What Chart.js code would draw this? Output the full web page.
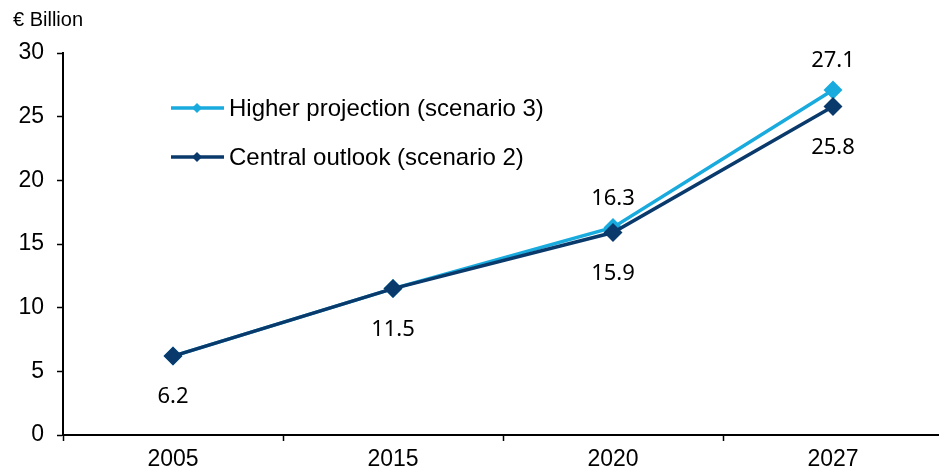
<!DOCTYPE html>
<html>
<head>
<meta charset="utf-8">
<script src="https://cdn.jsdelivr.net/npm/chart.js@4"></script>
<style>
  html, body { margin: 0; padding: 0; background: #fff; overflow: hidden; }
  #wrap { width: 939px; height: 475px; overflow: hidden; }
</style>
</head>
<body>
<div id="wrap"><canvas id="c" width="943" height="475"></canvas></div>
<script>
const years = ["2005", "2015", "2020", "2027"]
const higher = [6.2, 11.5, 16.3, 27.1]
const central = [6.2, 11.5, 15.9, 25.8]
const yTicks = [0, 5, 10, 15, 20, 25, 30]
// which points get a number, and where (above / below)
const higherLabels = [null, null, "above", "above"]
const centralLabels = ["below", "below", "below", "below"]

const lightBlue = "#19ABDE"
const navy = "#0A3A6C"

// unit label, legend, point values
const extras = {
  id: "extras",
  afterDatasetsDraw(chart) {
    const ctx = chart.ctx
    ctx.save()
    ctx.fillStyle = "#000"
    ctx.font = "20px 'Liberation Sans', Arial, sans-serif"
    ctx.textAlign = "left"
    ctx.textBaseline = "middle"
    ctx.fillText("€ Billion", 13, 20)

    // legend
    const items = [["Higher projection (scenario 3)", lightBlue, 108], ["Central outlook (scenario 2)", navy, 157]]
    items.forEach(([txt, col, y]) => {
      ctx.strokeStyle = col
      ctx.lineWidth = 3.5
      ctx.beginPath()
      ctx.moveTo(171, y)
      ctx.lineTo(224, y)
      ctx.stroke()
      ctx.fillStyle = col
      ctx.beginPath()
      ctx.moveTo(197, y - 5)
      ctx.lineTo(202, y)
      ctx.lineTo(197, y + 5)
      ctx.lineTo(192, y)
      ctx.closePath()
      ctx.fill()
      ctx.fillStyle = "#000"
      ctx.font = "24px 'Liberation Sans', Arial, sans-serif"
      ctx.fillText(txt, 229, y + 1)
    })

    // values
    ctx.font = "22px 'Noto Sans', 'DejaVu Sans', sans-serif"
    ctx.textAlign = "center"
    const sets = [[1, higher, higherLabels], [0, central, centralLabels]]
    sets.forEach(([i, vals, where]) => {
      const meta = chart.getDatasetMeta(i)
      meta.data.forEach((pt, k) => {
        if (!where[k]) return
        const dy = where[k] === "above" ? -29 : 41
        ctx.fillText(vals[k].toFixed(1), pt.x, pt.y + dy)
      })
    })
    ctx.restore()
  }
}

new Chart(document.getElementById("c"), {
  type: "line",
  data: {
    labels: years,
    datasets: [
      {
        label: "Central outlook (scenario 2)",
        data: central,
        borderColor: navy,
        backgroundColor: navy,
        borderWidth: 3.5,
        pointStyle: "rectRot",
        pointRadius: 7,
        pointHoverRadius: 7,
        tension: 0
      },
      {
        label: "Higher projection (scenario 3)",
        data: higher,
        borderColor: lightBlue,
        backgroundColor: lightBlue,
        borderWidth: 3.5,
        pointStyle: "rectRot",
        pointRadius: 7,
        pointHoverRadius: 7,
        tension: 0
      }
    ]
  },
  options: {
    responsive: false,
    animation: false,
    layout: { autoPadding: false, padding: { top: 53, left: 0, right: 0, bottom: 0 } },
    plugins: {
      legend: { display: false },
      tooltip: { enabled: false }
    },
    scales: {
      x: {
        offset: true,
        grid: { offset: true, drawOnChartArea: false, tickLength: 6, color: "#000", tickWidth: 1.5 },
        border: { color: "#000", width: 2 },
        ticks: { color: "#000", font: { family: "'Liberation Sans', Arial, sans-serif", size: 23 }, padding: 5 },
        afterFit(s) { s.height = 40 }
      },
      y: {
        min: 0,
        max: 30,
        afterBuildTicks(s) { s.ticks = yTicks.map(v => ({ value: v })) },
        grid: { drawOnChartArea: false, tickLength: 6, color: "#000", tickWidth: 1.5 },
        border: { color: "#000", width: 2 },
        ticks: { color: "#000", font: { family: "'Liberation Sans', Arial, sans-serif", size: 23 }, padding: 13 },
        afterFit(s) { s.width = 63 }
      }
    }
  },
  plugins: [extras]
})
</script>
</body>
</html>
